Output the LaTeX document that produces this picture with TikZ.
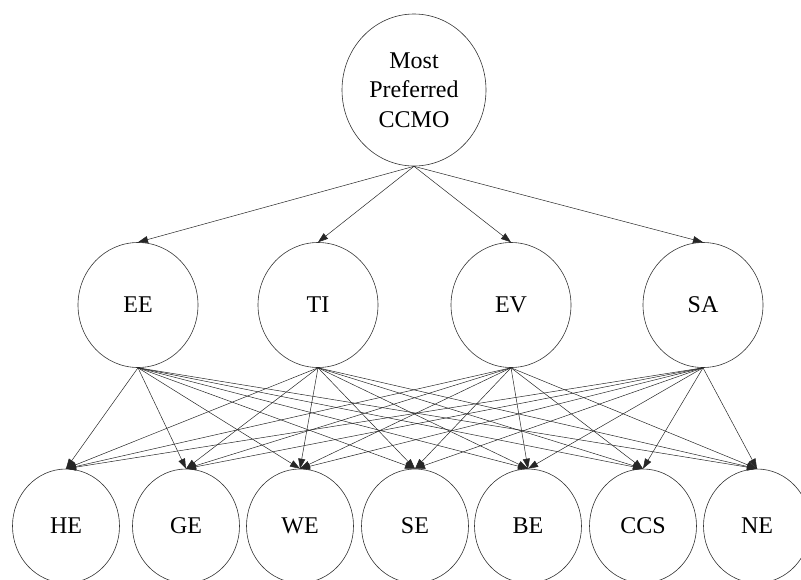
\documentclass[tikz,border=0pt]{standalone}
\usepackage{fontspec}
\setmainfont{Liberation Serif}
\usetikzlibrary{shapes.geometric,arrows.meta}
\begin{document}
\begin{tikzpicture}[x=1pt,y=-1pt,
  circ/.style={ellipse,draw=black!80,line width=0.6pt,inner sep=0pt,align=center,
    font=\fontsize{24}{29.5}\selectfont},
  top/.style={circ,minimum width=144pt,minimum height=152pt},
  mid/.style={circ,minimum width=120pt,minimum height=125pt},
  bot/.style={circ,minimum width=107pt,minimum height=114pt},
  arr/.style={line width=0.5pt,draw=black!85,-{Triangle[length=10pt,width=7pt]}}]
\useasboundingbox (0,0) rectangle (801,579);
\node[top] (T) at (414,90) {Most\\Preferred\\CCMO};
\node[mid] (EE) at (138,305) {EE};
\node[mid] (TI) at (318,305) {TI};
\node[mid] (EV) at (511,305) {EV};
\node[mid] (SA) at (703,305) {SA};
\node[bot] (HE) at (66,526) {HE};
\node[bot] (GE) at (186,526) {GE};
\node[bot] (WE) at (300,526) {WE};
\node[bot] (SE) at (415,526) {SE};
\node[bot] (BE) at (528,526) {BE};
\node[bot] (CCS) at (643,526) {CCS};
\node[bot] (NE) at (757,526) {NE};
\foreach \m in {EE,TI,EV,SA}{
  \draw[arr] (T.south) -- (\m.north);
  \foreach \b in {HE,GE,WE,SE,BE,CCS,NE}{
    \draw[arr] (\m.south) -- (\b.north);
  }
}
\end{tikzpicture}
\end{document}
